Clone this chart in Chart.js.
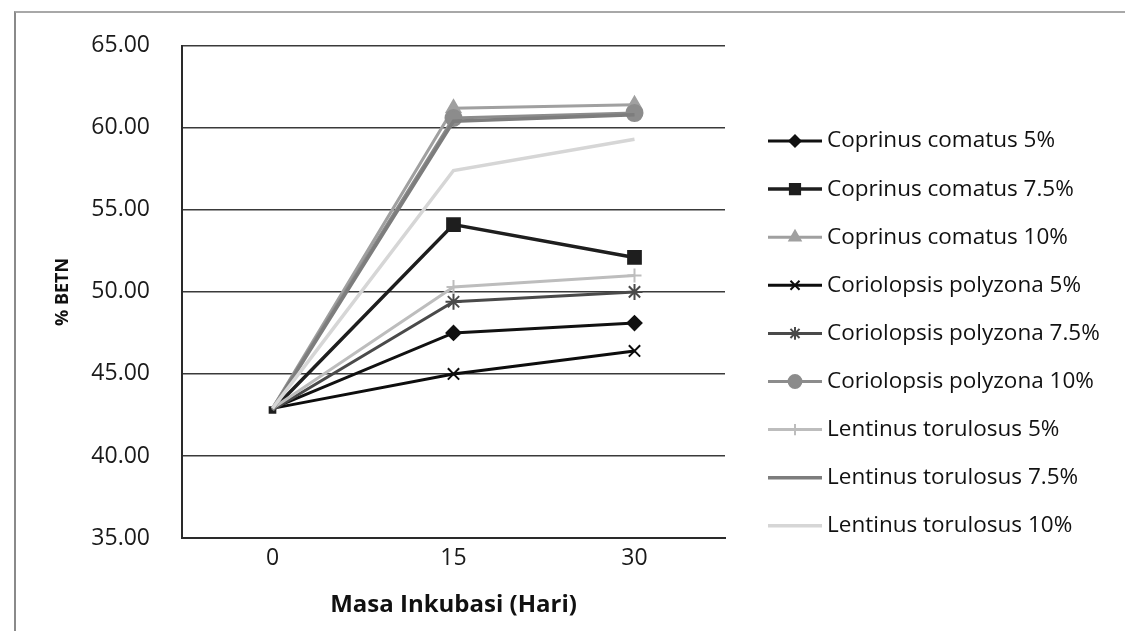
<!DOCTYPE html>
<html>
<head>
<meta charset="utf-8">
<script src="https://cdn.jsdelivr.net/npm/chart.js"></script>
<style>
    html, body { margin: 0; padding: 0; background: #fff; }
    #wrap { position: relative; width: 1125px; height: 631px; }
    #frame { position: absolute; left: 14px; top: 11px; right: 0; bottom: 0; border-left: 2px solid #8a8a8a; border-top: 2px solid #a8a8a8; pointer-events: none; }
</style>
</head>
<body>
<div id="wrap">
    <canvas id="betnChart" width="1125" height="631"></canvas>
    <div id="frame"></div>
</div>
<script>
// incubation days on the x axis
const days = ['0', '15', '30'];

const seriesNames = [
    'Coprinus comatus 5%',
    'Coprinus comatus 7.5%',
    'Coprinus comatus 10%',
    'Coriolopsis polyzona 5%',
    'Coriolopsis polyzona 7.5%',
    'Coriolopsis polyzona 10%',
    'Lentinus torulosus 5%',
    'Lentinus torulosus 7.5%',
    'Lentinus torulosus 10%'
];

// % BETN values
const coprinus5 = [42.9, 47.5, 48.1];
const coprinus75 = [42.8, 54.1, 52.1];
const coprinus10 = [42.9, 61.2, 61.4];
const coriolopsis5 = [42.9, 45.0, 46.4];
const coriolopsis75 = [42.8, 49.4, 50.0];
const coriolopsis10 = [42.9, 60.6, 60.9];
const lentinus5 = [42.9, 50.3, 51.0];
const lentinus75 = [42.8, 60.4, 60.8];
const lentinus10 = [42.9, 57.4, 59.3];

const yTicks = [35, 40, 45, 50, 55, 60, 65];

const seriesValues = [coprinus5, coprinus75, coprinus10, coriolopsis5, coriolopsis75, coriolopsis10, lentinus5, lentinus75, lentinus10];

// look of each series (greyscale print)
const styles = [
    { color: '#111111', point: 'rectRot', radius: 7, width: 3 },
    { color: '#1e1e1e', point: 'rect', radius: 9, width: 3.5 },
    { color: '#a0a0a0', point: 'triangle', radius: 8, width: 3 },
    { color: '#0d0d0d', point: 'crossRot', radius: 8, width: 3 },
    { color: '#4a4a4a', point: 'star', radius: 8, width: 3 },
    { color: '#8c8c8c', point: 'circle', radius: 8, width: 3 },
    { color: '#bdbdbd', point: 'cross', radius: 7, width: 3 },
    { color: '#7d7d7d', point: false, radius: 0, width: 3.5 },
    { color: '#d6d6d6', point: false, radius: 0, width: 3.5 }
];

const FONT = "'Open Sans', 'DejaVu Sans', sans-serif";

const datasets = seriesNames.map((name, i) => ({
    label: name,
    data: seriesValues[i],
    borderColor: styles[i].color,
    backgroundColor: styles[i].color,
    borderWidth: styles[i].width,
    pointStyle: styles[i].point || 'circle',
    // markers at day 0 are mostly hidden behind each other in the print
    pointRadius: [styles[i].point === 'rect' ? 4 : 0, styles[i].radius, styles[i].radius],
    pointBorderWidth: 2,
    pointBorderColor: styles[i].color,
    pointBackgroundColor: styles[i].color,
    tension: 0,
    order: seriesNames.length - i
}));

// legend drawn by hand: short line with marker, then label
const sideLegend = {
    id: 'sideLegend',
    afterDraw(chart) {
        const ctx = chart.ctx;
        ctx.save();
        chart.data.datasets.forEach((ds, i) => {
            const st = styles[i];
            const y = 141 + i * 48.1;
            ctx.strokeStyle = st.color;
            ctx.lineWidth = st.width;
            ctx.beginPath();
            ctx.moveTo(768, y);
            ctx.lineTo(822, y);
            ctx.stroke();
            if (st.point) {
                ctx.fillStyle = st.color;
                ctx.strokeStyle = st.color;
                ctx.lineWidth = 2;
                Chart.helpers.drawPoint(ctx, { pointStyle: st.point, radius: st.radius * 0.8, borderWidth: 2, rotation: 0 }, 795, y);
            }
            ctx.fillStyle = '#111';
            ctx.font = '500 22.5px ' + FONT;
            ctx.textAlign = 'left';
            ctx.textBaseline = 'middle';
            ctx.fillText(ds.label, 827, y);
        });
        ctx.restore();
    }
};

new Chart(document.getElementById('betnChart'), {
    type: 'line',
    data: { labels: days, datasets: datasets },
    plugins: [sideLegend],
    options: {
        responsive: false,
        animation: false,
        layout: { padding: { left: 0, right: 400, top: 40, bottom: 0 } },
        plugins: {
            legend: { display: false },
            tooltip: { enabled: false }
        },
        scales: {
            x: {
                offset: true,
                grid: { display: false, drawTicks: false },
                border: { display: true, color: '#2a2a2a', width: 2 },
                ticks: { color: '#1a1a1a', padding: 7, font: { family: FONT, size: 23 } },
                title: {
                    display: true,
                    text: 'Masa Inkubasi (Hari)',
                    color: '#111',
                    font: { family: FONT, size: 24, weight: 'bold' },
                    padding: { top: 0, bottom: 11 }
                },
                afterFit(scale) { scale.height = 93; }
            },
            y: {
                min: 35,
                max: 65,
                afterBuildTicks(scale) { scale.ticks = yTicks.map(v => ({ value: v })); },
                grid: { color: '#3a3a3a', lineWidth: 1.6, drawTicks: false },
                border: { display: true, color: '#2a2a2a', width: 2 },
                ticks: {
                    color: '#1a1a1a',
                    padding: 32,
                    font: { family: FONT, size: 23 },
                    callback: v => v.toFixed(2)
                },
                title: {
                    display: true,
                    align: 'center',
                    text: '% BETN',
                    color: '#111',
                    font: { family: FONT, size: 18, weight: 'bold' },
                    padding: { top: 52, bottom: 0 }
                },
                afterFit(scale) { scale.width = 182; }
            }
        }
    }
});
</script>
</body>
</html>
